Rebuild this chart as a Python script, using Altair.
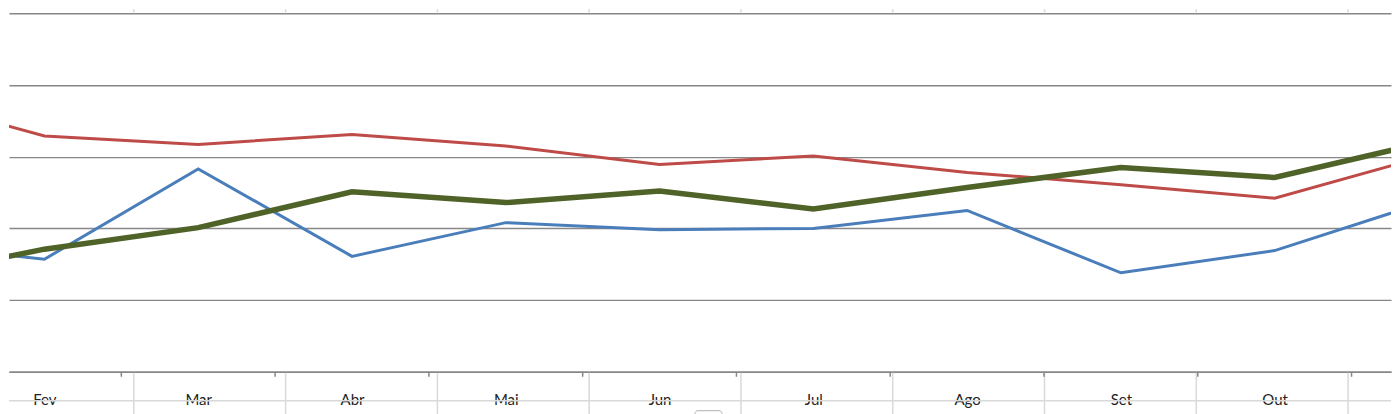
import altair as alt
import pandas as pd

months = ["Jan", "Fev", "Mar", "Abr", "Mai", "Jun", "Jul", "Ago", "Set", "Out", "Nov", "Dez"]
month_idx = [1, 2, 3, 4, 5, 6, 7, 8, 9, 10, 11]
blue_vals = [18.0, 15.7, 28.3, 16.1, 20.8, 19.8, 20.0, 22.5, 13.8, 16.9, 23.8]
red_vals = [38.7, 32.9, 31.7, 33.1, 31.5, 28.9, 30.1, 27.8, 26.1, 24.2, 30.2]
green_vals = [12.8, 17.1, 20.1, 25.1, 23.6, 25.2, 22.7, 25.7, 28.5, 27.1, 32.1]
grid_vals = [0, 10, 20, 30, 40, 50]
label_idx = [2, 3, 4, 5, 6, 7, 8, 9, 10]
tick_idx = [2.5, 3.5, 4.5, 5.5, 6.5, 7.5, 8.5, 9.5, 10.5]

W, H = 1384, 363
X_DOMAIN = [1.7695, 10.7565]
Y_DOMAIN = [0, 50.557]

xs = alt.Scale(domain=X_DOMAIN, nice=False, zero=False)
ys = alt.Scale(domain=Y_DOMAIN, nice=False, zero=False)

def series_df(vals):
    return pd.DataFrame({"m": month_idx, "v": vals})

label_expr = "[" + ",".join("'%s'" % m for m in months) + "][datum.value - 1]"

x_axis = alt.Axis(values=label_idx, labelExpr=label_expr, grid=False, ticks=False, tickSize=0,
                  domain=True, domainColor="#878787", domainWidth=1.5,
                  labelFont="Lato", labelFontSize=15, labelColor="#222222",
                  labelBaseline="alphabetic", labelPadding=33, title=None, labelFlush=False)
y_axis = alt.Axis(values=grid_vals, grid=True, gridColor="#878787", gridWidth=1.4,
                  labels=False, ticks=False, domain=False, title=None)

base_grid = alt.Chart(pd.DataFrame({"m": label_idx[:2], "v": [10, 20]})).mark_point(opacity=0, clip=True).encode(
    x=alt.X("m:Q", scale=xs, axis=x_axis),
    y=alt.Y("v:Q", scale=ys, axis=y_axis),
)

def line(vals, color, width):
    return alt.Chart(series_df(vals)).mark_line(color=color, strokeWidth=width, clip=True,
                                                  strokeJoin="miter").encode(
        x=alt.X("m:Q", scale=xs),
        y=alt.Y("v:Q", scale=ys),
    )

ticks = alt.Chart(pd.DataFrame({"t": tick_idx})).mark_rule(color="#878787", strokeWidth=1.5).encode(
    x=alt.X("t:Q", scale=xs),
    y=alt.value(H),
    y2=alt.value(H + 5),
)

# spreadsheet background cell lines (around the chart's plot area)
deco = []
col_lines = [125, 277, 429, 581, 733, 885, 1037, 1189, 1341]
for cx in col_lines:
    deco.append(alt.Chart(pd.DataFrame({"a": [0]})).mark_rule(color="#d9d9d9", strokeWidth=1.5).encode(
        x=alt.value(cx), y=alt.value(0), y2=alt.value(3)))
    deco.append(alt.Chart(pd.DataFrame({"a": [0]})).mark_rule(color="#d9d9d9", strokeWidth=1.5).encode(
        x=alt.value(cx), y=alt.value(H + 1), y2=alt.value(H + 43)))
deco.append(alt.Chart(pd.DataFrame({"a": [0]})).mark_rule(color="#d9d9d9", strokeWidth=1.5).encode(
    x=alt.value(0), x2=alt.value(W), y=alt.value(392)))
deco.append(alt.Chart(pd.DataFrame({"a": [0]})).mark_rect(fill="white", stroke="#b0b0b0", strokeWidth=1,
                                                          cornerRadius=3).encode(
    x=alt.value(687), x2=alt.value(714), y=alt.value(402), y2=alt.value(410)))

chart = alt.layer(
    *deco,
    base_grid,
    ticks,
    line(red_vals, "#BE4B48", 3),
    line(blue_vals, "#4A7EBB", 3),
    line(green_vals, "#4F6228", 5.5),
).properties(width=W, height=H, padding=0, background="white").configure_view(stroke=None)

chart.save("out.html", embed_options={"renderer": "svg", "actions": False})
